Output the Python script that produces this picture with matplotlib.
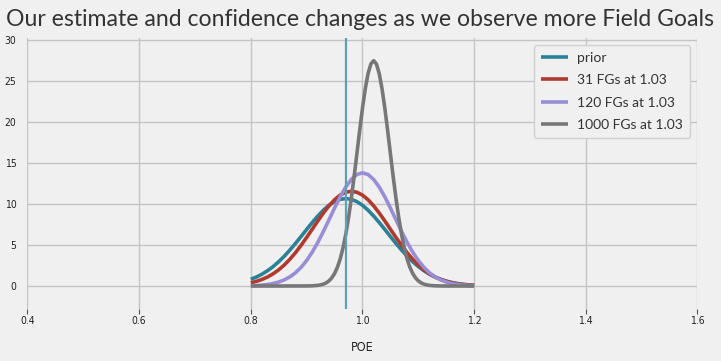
import matplotlib
matplotlib.use("Agg")
import matplotlib.pyplot as plt

# ---- data ----
x_wide = [0.80, 0.81, 0.82, 0.83, 0.84, 0.85, 0.86, 0.87, 0.88, 0.89,
          0.90, 0.91, 0.92, 0.93, 0.94, 0.95, 0.96, 0.97, 0.98, 0.99,
          1.00, 1.01, 1.02, 1.03, 1.04, 1.05, 1.06, 1.07, 1.08, 1.09,
          1.10, 1.11, 1.12, 1.13, 1.14, 1.15, 1.16, 1.17, 1.18, 1.19, 1.20]

prior = [0.815, 1.093, 1.440, 1.863, 2.369, 2.958, 3.629, 4.374, 5.179, 6.024,
         6.883, 7.726, 8.519, 9.229, 9.822, 10.27, 10.55, 10.64, 10.55, 10.27,
         9.822, 9.229, 8.519, 7.726, 6.883, 6.024, 5.179, 4.374, 3.629, 2.958,
         2.369, 1.863, 1.440, 1.093, 0.815, 0.597, 0.430, 0.304, 0.211, 0.144, 0.097]

fg31 = [0.390, 0.563, 0.795, 1.099, 1.488, 1.972, 2.562, 3.259, 4.057, 4.947,
        5.909, 6.913, 7.919, 8.882, 9.759, 10.50, 11.06, 11.41, 11.53, 11.41,
        11.06, 10.50, 9.759, 8.882, 7.919, 6.913, 5.909, 4.947, 4.057, 3.259,
        2.562, 1.972, 1.488, 1.099, 0.795, 0.563, 0.390, 0.265, 0.176, 0.115, 0.073]

fg120 = [0.036, 0.064, 0.110, 0.186, 0.304, 0.482, 0.743, 1.110, 1.611, 2.269,
         3.104, 4.119, 5.307, 6.636, 8.053, 9.488, 10.85, 12.04, 12.97, 13.57,
         13.77, 13.57, 12.97, 12.04, 10.85, 9.488, 8.053, 6.636, 5.307, 4.119,
         3.104, 2.269, 1.611, 1.110, 0.743, 0.482, 0.304, 0.186, 0.110, 0.064, 0.036]

x_narrow = [0.80, 0.85, 0.90, 0.91, 0.92, 0.925, 0.93, 0.935, 0.94, 0.945,
            0.95, 0.955, 0.96, 0.965, 0.97, 0.975, 0.98, 0.985, 0.99, 0.995,
            1.00, 1.005, 1.01, 1.015, 1.02, 1.025, 1.03, 1.035, 1.04, 1.045,
            1.05, 1.055, 1.06, 1.065, 1.07, 1.075, 1.08, 1.085, 1.09, 1.095,
            1.10, 1.105, 1.11, 1.115, 1.12, 1.13, 1.14, 1.15, 1.20]

fg1000 = [0.0, 0.0, 0.006, 0.022, 0.075, 0.133, 0.230, 0.385, 0.626, 0.989,
          1.519, 2.262, 3.271, 4.596, 6.266, 8.295, 10.66, 13.30, 16.11, 18.96,
          21.65, 24.01, 25.85, 27.02, 27.42, 27.02, 25.85, 24.01, 21.65, 18.96,
          16.11, 13.30, 10.66, 8.295, 6.266, 4.596, 3.271, 2.262, 1.519, 0.989,
          0.626, 0.385, 0.230, 0.133, 0.075, 0.022, 0.006, 0.0, 0.0]

prior_mean = 0.97
labels = ["prior", "31 FGs at 1.03", "120 FGs at 1.03", "1000 FGs at 1.03"]
colors = ["#2b8196", "#b03a2e", "#988ED5", "#777777"]
xticks = [0.4, 0.6, 0.8, 1.0, 1.2, 1.4, 1.6]
yticks = [0, 5, 10, 15, 20, 25, 30]

# ---- figure ----
bg = "#f0f0f0"
fig = plt.figure(figsize=(7.21, 3.61), dpi=100, facecolor=bg)
ax = fig.add_axes([0.0381, 0.1454, 0.9293, 0.7488], facecolor=bg)

ax.plot(x_wide, prior, color=colors[0], lw=2.6, label=labels[0], solid_capstyle="butt")
ax.plot(x_wide, fg31, color=colors[1], lw=2.6, label=labels[1], solid_capstyle="butt")
ax.plot(x_wide, fg120, color=colors[2], lw=2.6, label=labels[2], solid_capstyle="butt")
ax.plot(x_narrow, fg1000, color=colors[3], lw=2.6, label=labels[3], solid_capstyle="butt")
ax.axvline(prior_mean, color="#5aa3b5", lw=1.6)

ax.set_xlim(0.4, 1.6)
ax.set_ylim(-2.74, 30.16)
ax.set_xticks(xticks)
ax.set_yticks(yticks)
ax.set_xticklabels([f"{t:.1f}" for t in xticks])
ax.set_yticklabels([str(t) for t in yticks])
ax.grid(True, color="#c4c4c4", lw=1.0)
ax.set_axisbelow(True)
for s in ax.spines.values():
    s.set_visible(False)
ax.tick_params(axis="x", length=3.5, width=0.8, color="#555555", pad=2,
               labelsize=7.5, labelcolor="#222222")
ax.tick_params(axis="y", length=0, pad=8, labelsize=7.5, labelcolor="#222222")
for lab in ax.get_xticklabels() + ax.get_yticklabels():
    lab.set_fontstretch("condensed")

ax.set_xlabel("POE", fontsize=9, color="#222222", labelpad=11, fontstretch="condensed")

leg = ax.legend(loc="upper right", bbox_to_anchor=(0.989, 0.975), borderaxespad=0,
                prop={"family": "Lato", "size": 10},
                frameon=True, facecolor=bg, edgecolor="#d0d0d0",
                handlelength=1.9, handletextpad=0.7, labelspacing=0.75,
                borderpad=0.5, framealpha=1.0)
for t in leg.get_texts():
    t.set_color("#333333")

fig.text(0.5, 0.945, "Our estimate and confidence changes as we observe more Field Goals",
         ha="center", va="center", fontsize=16.6, family="Lato", color="#333333")

fig.savefig("out.png", dpi=100, facecolor=bg)
